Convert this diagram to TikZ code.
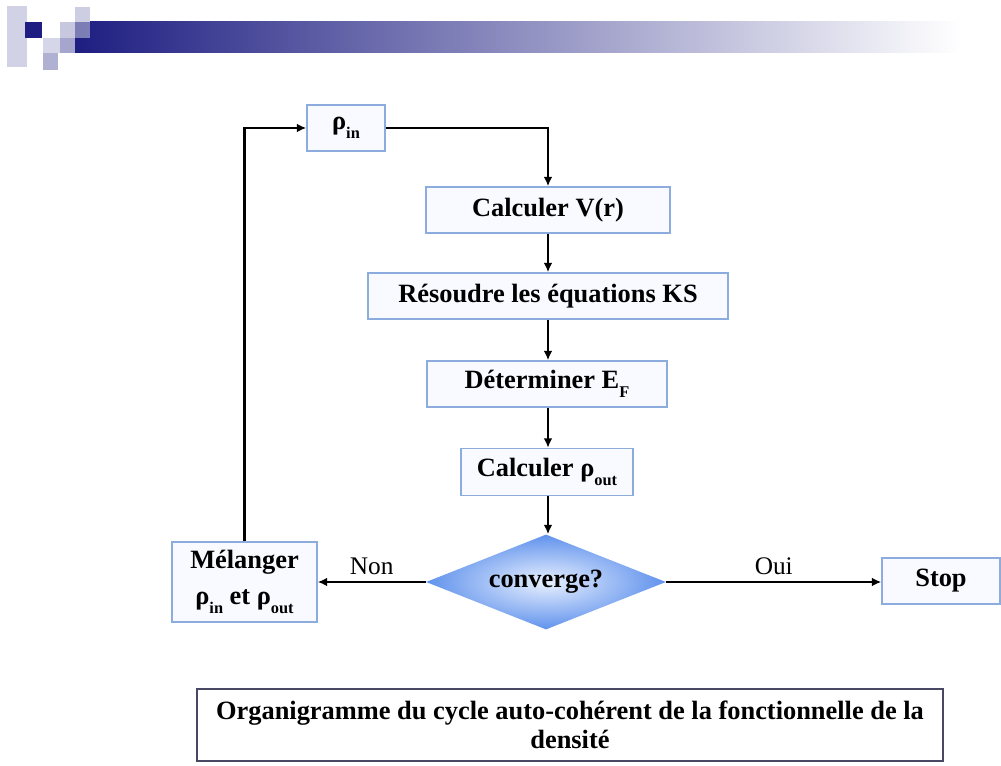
\documentclass[tikz,border=0pt]{standalone}
\usepackage{fontspec}
\setmainfont{Liberation Serif}
\usetikzlibrary{shapes.geometric,arrows.meta}
\definecolor{navy}{RGB}{30,30,130}
\definecolor{barmid}{RGB}{150,150,182}
\definecolor{boxline}{RGB}{140,172,222}
\definecolor{boxfill}{RGB}{248,250,255}
\definecolor{dfill}{RGB}{232,240,255}
\definecolor{dedge}{RGB}{96,146,236}
\definecolor{frame}{RGB}{72,72,100}
% subscript used for rho_in, rho_out, E_F
\newcommand\lowsub[1]{\raisebox{-0.34em}{\scalebox{0.62}{#1}}}
\tikzset{
  big/.style={font=\fontsize{19.8pt}{24pt}\selectfont\bfseries},
  stepbox/.style={draw=boxline, line width=1.1pt, fill=boxfill, big,
    inner sep=0pt, align=center},
  link/.style={line width=2.1pt, -{Latex[length=7pt,width=6.5pt]}},
  lbl/.style={font=\fontsize{19pt}{22pt}\selectfont},
}
\begin{document}
\begin{tikzpicture}[x=0.75pt,y=-0.75pt]
\useasboundingbox (0,0) rectangle (1001,766);
% header ornament
\shade[left color=navy, middle color=barmid, right color=white]
  (75,22) rectangle (960,53);
\fill[white] (960,22) rectangle (1001,53);
\fill[navy!20] (7,6) rectangle (27,67);
\fill[navy] (25,22) rectangle (42,38);
\fill[navy!22] (75,7) rectangle (90,22);
\fill[navy!25] (60,22) rectangle (75,38);
\fill[navy!40, opacity=0.7] (75,22) rectangle (90,38);
\fill[navy!18] (43,38) rectangle (60,53);
\fill[navy!40] (60,38) rectangle (75,53);
\fill[navy!35] (43,53) rectangle (58,70);

% flow chart boxes, one column at x = 548
\node[stepbox, minimum width=78*0.75pt, minimum height=46*0.75pt]
  (rin) at (346,128) {ρ\lowsub{in}};
\node[stepbox, minimum width=244*0.75pt, minimum height=46*0.75pt]
  (vr) at (548,210) {Calculer V(r)};
\node[stepbox, minimum width=360*0.75pt, minimum height=46*0.75pt]
  (ks) at (548,296) {Résoudre les équations KS};
\node[stepbox, minimum width=240*0.75pt, minimum height=46*0.75pt]
  (ef) at (547,384) {Déterminer E\lowsub{F}};
\node[stepbox, minimum width=172*0.75pt, minimum height=47*0.75pt]
  (rout) at (547,472) {Calculer ρ\lowsub{out}};
\node[diamond, shape aspect=2.5, inner sep=0pt, big,
  minimum width=240*0.75pt, minimum height=95*0.75pt,
  shading=radial, inner color=dfill, outer color=dedge]
  (conv) at (546,582) {converge?};
\node[stepbox, minimum width=145*0.75pt, minimum height=80*0.75pt]
  (mix) at (244.5,582) {Mélanger\\[3pt]ρ\lowsub{in} et ρ\lowsub{out}};
\node[stepbox, minimum width=118*0.75pt, minimum height=46*0.75pt]
  (stop) at (941,581) {Stop};

% caption box
\node[draw=frame, line width=1.8pt, fill=white, big, align=center,
  minimum width=746*0.75pt, minimum height=72*0.75pt, inner sep=0pt]
  (cap) at (570,725)
  {Organigramme du cycle auto-cohérent de la fonctionnelle de la\\[-2pt]densité};

% connectors
\coordinate (c1) at (548,128);
\coordinate (c2) at (244.5,128);
\draw[link] (rin.east) -- (c1) -- (vr.north);
\draw[link] (vr.south) -- (ks.north);
\draw[link] (ks.south -| c1) -- (ef.north -| c1);
\draw[link] (ef.south -| c1) -- (rout.north -| c1);
\draw[link] (rout.south -| c1) -- (conv.north -| c1);
\draw[link] (conv.west) -- node[lbl, above=1pt, pos=0.5] {Non} (mix.east);
\draw[link] (conv.east) -- node[lbl, above=1pt, pos=0.5] {Oui} (conv.east -| stop.west);
\draw[link] (mix.north) -- (c2) -- (rin.west);
\end{tikzpicture}
\end{document}
